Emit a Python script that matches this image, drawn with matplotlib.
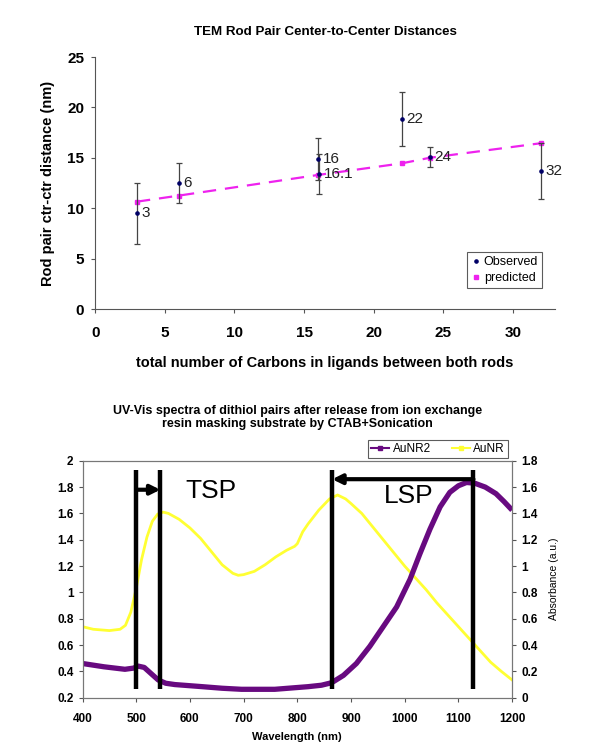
import numpy as np
import matplotlib
matplotlib.use("Agg")
import matplotlib.pyplot as plt
from matplotlib.lines import Line2D

plt.rcParams['font.family'] = ['Liberation Sans', 'DejaVu Sans']

# --- top chart data ---
obs_x = [3, 6, 16, 16.1, 22, 24, 32]
obs_y = [9.5, 12.5, 14.9, 13.4, 18.85, 15.05, 13.7]
obs_err = [3.0, 2.0, 2.1, 2.0, 2.7, 1.0, 2.8]
obs_labels = ['3', '6', '16', '16.1', '22', '24', '32']
pred_x = [3, 6, 16, 22, 24, 32]
pred_y = [10.65, 11.25, 13.3, 14.45, 15.0, 16.45]

# --- bottom chart data ---
aunr_wl = [400, 420, 450, 470, 480, 490, 500, 510, 520, 530, 540, 550, 560, 580,
           600, 620, 640, 660, 680, 690, 700, 720, 740, 760, 780, 795, 800, 810,
           820, 840, 860, 875, 890, 900, 920, 940, 960, 980, 1000, 1020, 1040,
           1060, 1080, 1100, 1120, 1140, 1160, 1180, 1200]
aunr_abs = [0.74, 0.72, 0.71, 0.72, 0.75, 0.85, 1.03, 1.25, 1.42, 1.54, 1.595,
            1.61, 1.60, 1.555, 1.49, 1.41, 1.31, 1.21, 1.145, 1.13, 1.135, 1.16,
            1.21, 1.27, 1.32, 1.35, 1.37, 1.46, 1.52, 1.625, 1.71, 1.74, 1.71,
            1.675, 1.60, 1.50, 1.40, 1.30, 1.20, 1.11, 1.02, 0.92, 0.83, 0.74,
            0.65, 0.56, 0.47, 0.40, 0.335]
aunr2_wl = [400, 440, 479, 495, 504, 515, 530, 541, 555, 572, 620, 660, 696, 758,
            820, 845, 864, 886, 910, 935, 960, 985, 1010, 1028, 1047, 1066, 1084,
            1100, 1115, 1130, 1150, 1170, 1185, 1200]
aunr2_abs = [0.46, 0.435, 0.416, 0.425, 0.44, 0.43, 0.375, 0.335, 0.31, 0.30,
             0.285, 0.272, 0.264, 0.264, 0.284, 0.295, 0.314, 0.37, 0.46, 0.59,
             0.74, 0.89, 1.10, 1.29, 1.48, 1.65, 1.76, 1.81, 1.835, 1.83, 1.80,
             1.75, 1.69, 1.625]
marker_wl = [500, 545, 865, 1128]
tsp_span = (500, 545)
lsp_span = (1128, 865)

fig = plt.figure(figsize=(5.91, 7.53), dpi=100)

# ---------------- top ----------------
ax = fig.add_axes([0.161, 0.5896, 0.778, 0.3347])
ax.errorbar(obs_x, obs_y, yerr=obs_err, fmt='o', color='#000066', ms=2.3,
            ecolor='#444444', elinewidth=0.9, capsize=2.5, capthick=0.9,
            zorder=3)
ax.plot(pred_x, pred_y, ls=(0, (6, 4)), color='#ee22ee', lw=1.6, marker='s',
        ms=3, zorder=2)
for xx, yy, t in zip(obs_x, obs_y, obs_labels):
    ax.text(xx + 0.35, yy, t, fontsize=11, va='center', ha='left', color='#222222')
ax.set_xlim(0, 33)
ax.set_ylim(0, 25)
ax.set_xticks(range(0, 31, 5))
ax.set_yticks(range(0, 26, 5))
for s in ['top', 'right']:
    ax.spines[s].set_visible(False)
for s in ['left', 'bottom']:
    ax.spines[s].set_color('#555555')
ax.tick_params(direction='out', length=3, color='#555555', labelsize=11)
ax.tick_params(axis='x', pad=9)
ax.tick_params(axis='y', pad=5)
for lab in ax.get_xticklabels() + ax.get_yticklabels():
    lab.set_fontweight('bold')
ax.set_title('TEM Rod Pair Center-to-Center Distances', fontsize=9.6,
             fontweight='bold', pad=16)
ax.set_ylabel('Rod pair ctr-ctr distance (nm)', fontsize=10.5,
              fontweight='bold', labelpad=9)
ax.set_xlabel('total number of Carbons in ligands between both rods',
              fontsize=10.5, fontweight='bold', labelpad=12)
th = [Line2D([], [], ls='none', marker='o', color='#000066', ms=2.3),
      Line2D([], [], ls='none', marker='s', color='#ee22ee', ms=3)]
leg = ax.legend(th, ['Observed', 'predicted'], loc='lower right',
                bbox_to_anchor=(0.985, 0.06), fontsize=9,
                fancybox=False, edgecolor='#333333', handletextpad=0.2,
                handlelength=0.8, borderpad=0.3, labelspacing=0.3)
leg.get_frame().set_linewidth(0.8)

# ---------------- bottom ----------------
bx = fig.add_axes([0.1396, 0.0734, 0.7269, 0.3147])
bx.plot(aunr_wl, aunr_abs, color='#ffff33', lw=2)
bx.plot(aunr2_wl, aunr2_abs, color='#680a80', lw=3.8, solid_capstyle='butt')
bx.vlines(marker_wl, 0.27, 1.93, colors='black', lw=3.2)
bx.annotate('', xy=(tsp_span[1], 1.78), xytext=(tsp_span[0], 1.78),
            arrowprops=dict(arrowstyle='-|>', color='black', lw=3,
                            mutation_scale=14, shrinkA=0, shrinkB=0))
bx.annotate('', xy=(lsp_span[1], 1.86), xytext=(lsp_span[0], 1.86),
            arrowprops=dict(arrowstyle='-|>', color='black', lw=3,
                            mutation_scale=14, shrinkA=0, shrinkB=0))
bx.text(640, 1.77, 'TSP', fontsize=19, ha='center', va='center')
bx.text(1008, 1.73, 'LSP', fontsize=19, ha='center', va='center')
bx.set_xlim(400, 1200)
bx.set_ylim(0.2, 2.0)
bx.set_xticks(range(400, 1201, 100))
bx.set_yticks(np.arange(0.2, 2.01, 0.2))
bx.set_yticklabels(['0.2', '0.4', '0.6', '0.8', '1', '1.2', '1.4', '1.6', '1.8', '2'])
for s in bx.spines.values():
    s.set_color('#777777')
bx.tick_params(direction='out', length=3, color='#555555', labelsize=8.5)
bx.tick_params(axis='x', pad=8)
for lab in bx.get_xticklabels() + bx.get_yticklabels():
    lab.set_fontweight('bold')
bx.set_xlabel('Wavelength (nm)', fontsize=8, fontweight='bold', labelpad=5)
bx.set_title('UV-Vis spectra of dithiol pairs after release from ion exchange\n'
             'resin masking substrate by CTAB+Sonication', fontsize=9,
             fontweight='bold', pad=24, linespacing=1.15)

rx = bx.twinx()
rx.set_ylim(0, 1.8)
rx.set_yticks(np.arange(0, 1.81, 0.2))
rx.set_yticklabels(['0', '0.2', '0.4', '0.6', '0.8', '1', '1.2', '1.4', '1.6', '1.8'])
for s in rx.spines.values():
    s.set_color('#777777')
rx.tick_params(direction='out', length=3, color='#555555', labelsize=8.5)
for lab in rx.get_yticklabels():
    lab.set_fontweight('bold')
rx.set_ylabel('Absorbance (a.u.)', fontsize=7.5, labelpad=8)

hh = [Line2D([], [], color='#680a80', lw=1.5, marker='s', ms=3),
      Line2D([], [], color='#ffff33', lw=1.5, marker='s', ms=3)]
leg2 = bx.legend(hh, ['AuNR2', 'AuNR'], loc='lower right',
                 bbox_to_anchor=(0.99, 1.01), ncol=2, fontsize=8.5,
                 fancybox=False, edgecolor='#333333', handlelength=1.5,
                 handletextpad=0.3, columnspacing=1.8, borderpad=0.25,
                 borderaxespad=0)
leg2.get_frame().set_linewidth(0.8)

fig.savefig('out.png', dpi=100)
